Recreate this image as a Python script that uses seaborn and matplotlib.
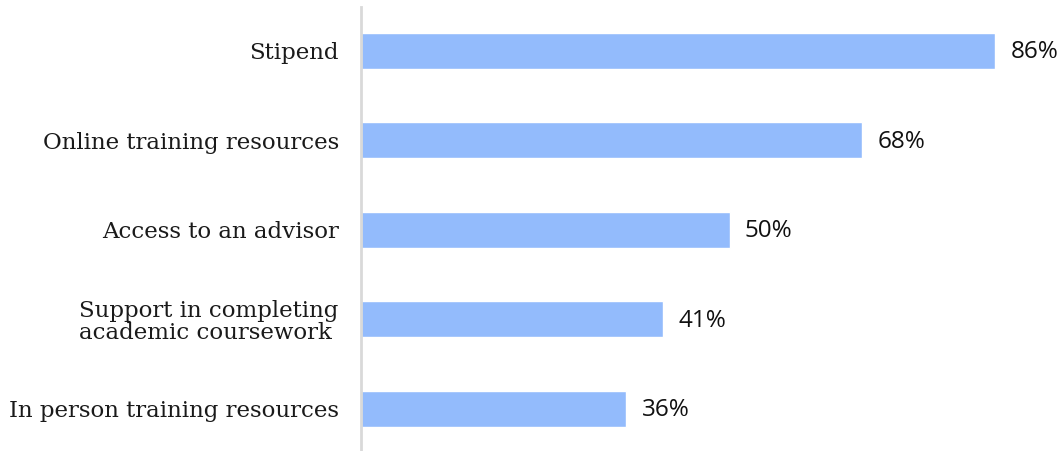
import matplotlib
matplotlib.use("Agg")
import matplotlib.pyplot as plt
import seaborn as sns
import pandas as pd

categories = [
    "Stipend",
    "Online training resources",
    "Access to an advisor",
    "Support in completing\nacademic coursework ",
    "In person training resources",
]
values = [86, 68, 50, 41, 36]
value_labels = ["86%", "68%", "50%", "41%", "36%"]

bar_color = "#93bbfc"

sns.set_theme(style="white")
plt.rcParams["font.family"] = ["DejaVu Serif"]

df = pd.DataFrame({"category": categories, "value": values})

fig = plt.figure(figsize=(10.62, 4.51), dpi=100)
ax = fig.add_axes([361 / 1062, 1 - 450 / 451, (995 - 361) / 1062, (450 - 7) / 451])

sns.barplot(data=df, x="value", y="category", orient="h", color=bar_color,
            width=0.4, saturation=1, ax=ax)

ax.set_xlim(0, 86)
ax.set_ylim(4.46, -0.49)
ax.set_xlabel("")
ax.set_ylabel("")
ax.set_xticks([])

for side in ("top", "right", "bottom"):
    ax.spines[side].set_visible(False)
ax.spines["left"].set_color("#d9d9d9")
ax.spines["left"].set_linewidth(2)

ax.tick_params(axis="y", length=0, pad=16)
for lbl in ax.get_yticklabels():
    lbl.set_fontsize(16.5)
    lbl.set_color("#1a1a1a")
    lbl.set_linespacing(1.0)

for i, (v, t) in enumerate(zip(values, value_labels)):
    ax.annotate(t, xy=(v, i), xytext=(11, -1), textcoords="offset points",
                ha="left", va="center", fontsize=17.5, color="#111111",
                family=["Open Sans", "DejaVu Sans"], annotation_clip=False)

fig.savefig("out.png", dpi=100)
